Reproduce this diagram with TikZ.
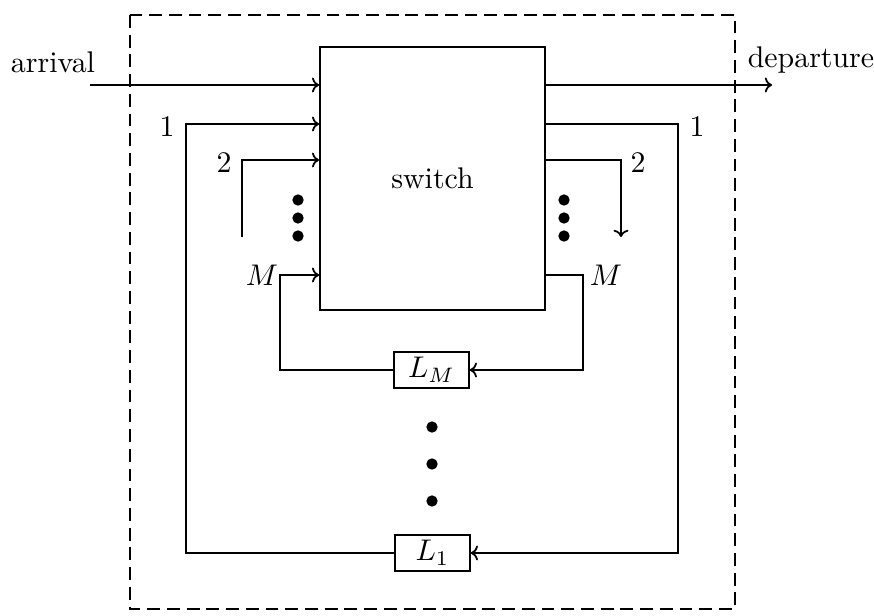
\documentclass[tikz,border=0pt]{standalone}
\usepackage{amsmath}
\usetikzlibrary{calc,arrows.meta}

\begin{document}
\begin{tikzpicture}[x=0.01176cm,y=-0.01176cm,semithick,>={To[length=2.4pt,width=5pt]},
    delay/.style={draw,fill=white,minimum width=0.88cm,minimum height=0.42cm,inner sep=0pt},
    dot/.style={circle,fill,inner sep=0pt,minimum size=3.8pt}]
    \useasboundingbox (0,0) rectangle (874,615);
    \draw[dash pattern=on 4.3pt off 2.3pt] (130,15) rectangle (735,609);
    \node[draw,minimum width=2.646cm,minimum height=3.093cm] (sw) at (432.5,178.5) {switch};
    \node[delay] (lm) at (431.5,370) {$L_M$};
    \node[delay] (lone) at (432.5,553) {$L_1$};
    \coordinate (r1) at (0,124);
    \coordinate (r2) at (0,160);
    \coordinate (rM) at (0,275);
    \coordinate (arr) at (90,85);
    \coordinate (dep) at (772,85);
    \coordinate (i1) at (186,124);
    \coordinate (i2) at (242,237);
    \coordinate (iM) at (280,275);
    \coordinate (o1) at (678,553);
    \coordinate (o2) at (621,237);
    \coordinate (oM) at (583,370);
    \node (arrl) at (53,62) {arrival};
    \node (depl) at (811,60) {departure};
    \draw[->] (arr) -- (sw.west |- arr);
    \draw[->] (sw.east |- dep) -- (dep);
    \draw[->] (lone.west) -| (i1) -- (sw.west |- r1);
    \draw[->] (i2) |- (sw.west |- r2);
    \draw[->] (lm.west) -| (iM) -- (sw.west |- rM);
    \draw[->] (sw.east |- r1) -| (o1) -- (lone.east);
    \draw[->] (sw.east |- r2) -| (o2);
    \draw[->] (sw.east |- rM) -| (oM) -- (lm.east);
    \node (n1l) at (167,127) {1};
    \node (n2l) at (224,163) {2};
    \node (nMl) at (262,275) {$M$};
    \node (n1r) at (697,127) {1};
    \node (n2r) at (638,163) {2};
    \node (nMr) at (606,275) {$M$};
    \foreach \y in {200,218,236} {
        \node[dot] at (298,\y) {};
        \node[dot] at (564,\y) {};
    }
    \foreach \y in {427,464,501}
        \node[dot] at (432,\y) {};
\end{tikzpicture}
\end{document}
